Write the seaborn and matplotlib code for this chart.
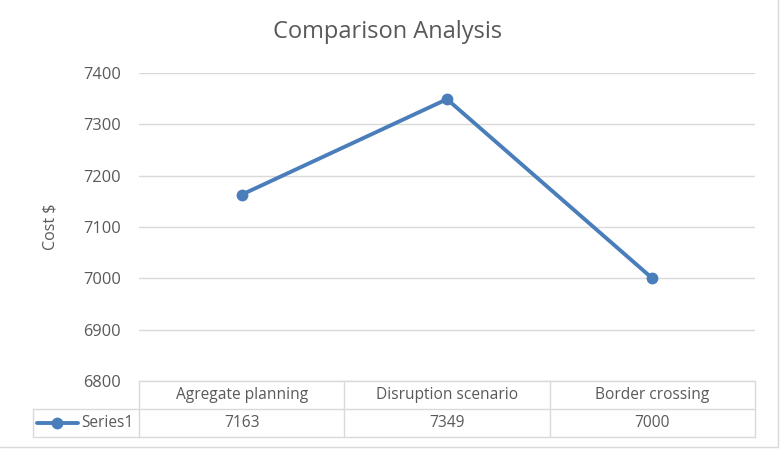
import matplotlib.pyplot as plt
import seaborn as sns
from matplotlib.lines import Line2D

categories = ["Agregate planning", "Disruption scenario", "Border crossing"]
costs = [7163, 7349, 7000]
series_name = "Series1"
y_ticks = [6800, 6900, 7000, 7100, 7200, 7300, 7400]

line_color = "#4a7ebb"
text_color = "#595959"
grid_color = "#d9d9d9"

sns.set_theme(style="white")
plt.rcParams["font.family"] = ["Open Sans", "DejaVu Sans"]

W, H = 782, 450
fig = plt.figure(figsize=(W / 100, H / 100), dpi=100)
ax = fig.add_axes([139 / W, 1 - 381 / H, 616 / W, 308 / H])

n = len(categories)
sns.lineplot(x=list(range(n)), y=costs, ax=ax, color=line_color,
             linewidth=2.8, marker="o", markersize=8.5, markeredgewidth=0, sort=False)

ax.set_xlim(-0.5, n - 0.5)
ax.set_ylim(y_ticks[0], y_ticks[-1])
ax.set_yticks(y_ticks)
ax.set_xticks([])
for t in y_ticks:
    ax.axhline(t, color=grid_color, linewidth=1, zorder=0)
for s in ax.spines.values():
    s.set_visible(False)
ax.tick_params(axis="y", length=0, labelsize=11.8, labelcolor=text_color, pad=13)
ax.set_ylabel("Cost $", fontsize=11.5, color=text_color, labelpad=18)
fig.text(388 / W, 1 - 32 / H, "Comparison Analysis", fontsize=17, color=text_color,
         ha="center", va="center")


# data table under the plot, drawn in figure pixel coords
def fx(px):
    return px / W


def fy(py):
    return 1 - py / H


col_edges = [139 + i * 616 / n for i in range(n + 1)]
rows_y = [381, 409, 437]
left = 33
tkw = dict(color=grid_color, linewidth=1)
fig.add_artist(Line2D([fx(col_edges[0]), fx(col_edges[-1])], [fy(rows_y[0])] * 2, **tkw))
fig.add_artist(Line2D([fx(left), fx(col_edges[-1])], [fy(rows_y[1])] * 2, **tkw))
fig.add_artist(Line2D([fx(left), fx(col_edges[-1])], [fy(rows_y[2])] * 2, **tkw))
fig.add_artist(Line2D([fx(left)] * 2, [fy(rows_y[1]), fy(rows_y[2])], **tkw))
for xe in col_edges:
    fig.add_artist(Line2D([fx(xe)] * 2, [fy(rows_y[0]), fy(rows_y[2])], **tkw))
for i, (cat, v) in enumerate(zip(categories, costs)):
    xc = (col_edges[i] + col_edges[i + 1]) / 2
    fig.text(fx(xc), fy((rows_y[0] + rows_y[1]) / 2), cat, fontsize=11.2,
             color=text_color, ha="center", va="center")
    fig.text(fx(xc), fy((rows_y[1] + rows_y[2]) / 2), str(v), fontsize=11.2,
             color=text_color, ha="center", va="center")
key_y = fy((rows_y[1] + rows_y[2]) / 2)
fig.text(fx(134), key_y, series_name, fontsize=11.2, color=text_color,
         ha="right", va="center")
fig.add_artist(Line2D([fx(37), fx(78)], [key_y, key_y], color=line_color, linewidth=2.8))
fig.add_artist(Line2D([fx(57)], [key_y], color=line_color, marker="o", markersize=8.5,
                      markeredgewidth=0))

# outer chart border
fig.add_artist(Line2D([0, fx(778)], [fy(447)] * 2, color=grid_color, linewidth=1))
fig.add_artist(Line2D([fx(778)] * 2, [fy(447), 1], color=grid_color, linewidth=1))

fig.savefig("out.png", dpi=100)
